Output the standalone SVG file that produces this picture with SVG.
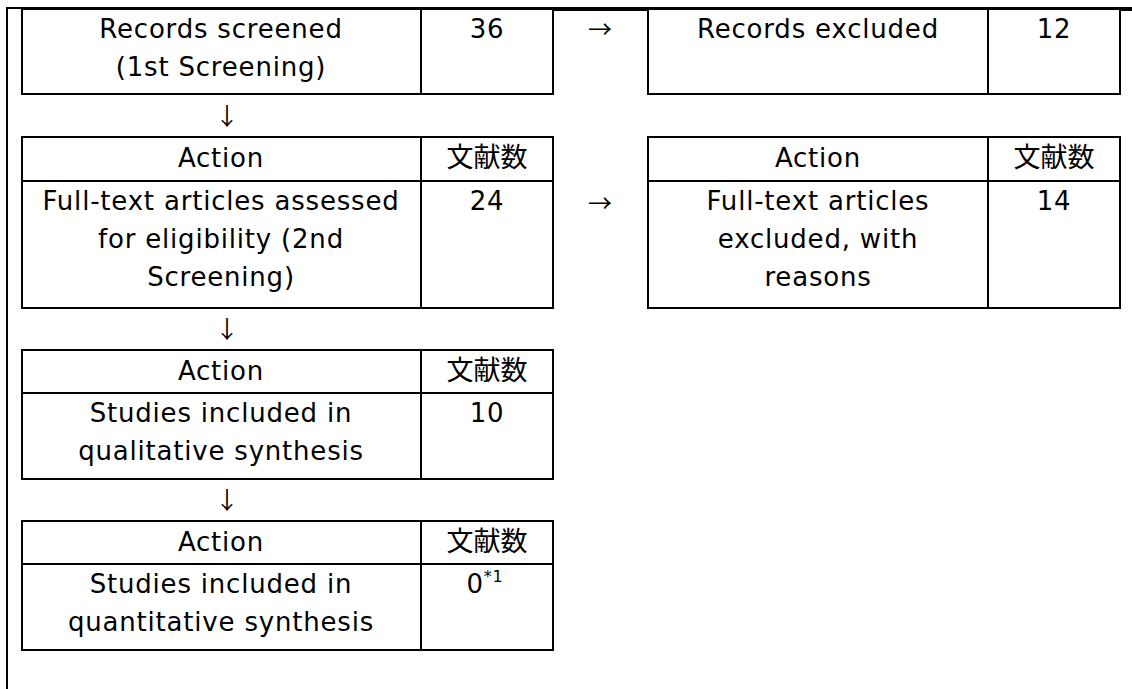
<svg xmlns="http://www.w3.org/2000/svg" width="1132" height="689" viewBox="0 0 1132 689">
<style>
.b{fill:#fff;stroke:#000;stroke-width:2}
.l{stroke:#000;stroke-width:2;fill:none}
.t{font-family:"DejaVu Sans","Liberation Sans",sans-serif;font-size:26px;letter-spacing:0.8px;fill:#000;text-anchor:middle}
.j{font-family:"Noto Sans CJK JP","Noto Sans CJK SC",sans-serif;font-size:27px;fill:#000;text-anchor:middle}
.a{font-family:"Noto Sans CJK JP","Noto Sans CJK SC",sans-serif;font-size:24px;fill:#000;text-anchor:middle}
</style>
<rect width="1132" height="689" fill="#fff"/>
<g id="frame">
<line class="l" x1="7" y1="7" x2="7" y2="689"/>
<line class="l" x1="6" y1="8" x2="22" y2="8"/>
<rect x="21" y="7" width="1111" height="4" fill="#000"/>
</g>
<g id="records-screened">
<rect class="b" x="22" y="9" width="531" height="85"/>
<line class="l" x1="421" y1="9" x2="421" y2="94"/>
<text class="t" x="221" y="38">Records screened</text>
<text class="t" x="221" y="76">(1st Screening)</text>
<text class="t" x="487" y="38">36</text>
</g>
<g id="records-excluded">
<rect class="b" x="648" y="9" width="472" height="85"/>
<line class="l" x1="988" y1="9" x2="988" y2="94"/>
<text class="t" x="818" y="38">Records excluded</text>
<text class="t" x="1054" y="38">12</text>
</g>
<g id="full-text-assessed">
<rect class="b" x="22" y="137" width="531" height="171"/>
<line class="l" x1="22" y1="181" x2="553" y2="181"/>
<line class="l" x1="421" y1="137" x2="421" y2="308"/>
<text class="t" x="221" y="166.5">Action</text>
<text class="j" x="487" y="166.5">文献数</text>
<text class="t" x="221" y="210">Full-text articles assessed</text>
<text class="t" x="221" y="248">for eligibility (2nd</text>
<text class="t" x="221" y="286">Screening)</text>
<text class="t" x="487" y="210">24</text>
</g>
<g id="full-text-excluded">
<rect class="b" x="648" y="137" width="472" height="171"/>
<line class="l" x1="648" y1="181" x2="1120" y2="181"/>
<line class="l" x1="988" y1="137" x2="988" y2="308"/>
<text class="t" x="818" y="166.5">Action</text>
<text class="j" x="1054" y="166.5">文献数</text>
<text class="t" x="818" y="210">Full-text articles</text>
<text class="t" x="818" y="248">excluded, with</text>
<text class="t" x="818" y="286">reasons</text>
<text class="t" x="1054" y="210">14</text>
</g>
<g id="qualitative">
<rect class="b" x="22" y="350" width="531" height="129"/>
<line class="l" x1="22" y1="393" x2="553" y2="393"/>
<line class="l" x1="421" y1="350" x2="421" y2="479"/>
<text class="t" x="221" y="379.5">Action</text>
<text class="j" x="487" y="379.5">文献数</text>
<text class="t" x="221" y="422">Studies included in</text>
<text class="t" x="221" y="460">qualitative synthesis</text>
<text class="t" x="487" y="422">10</text>
</g>
<g id="quantitative">
<rect class="b" x="22" y="521" width="531" height="129"/>
<line class="l" x1="22" y1="564" x2="553" y2="564"/>
<line class="l" x1="421" y1="521" x2="421" y2="650"/>
<text class="t" x="221" y="550.5">Action</text>
<text class="j" x="487" y="550.5">文献数</text>
<text class="t" x="221" y="593">Studies included in</text>
<text class="t" x="221" y="631">quantitative synthesis</text>
<text class="t" x="485" y="593">0<tspan font-size="16" dy="-11">*1</tspan></text>
</g>
<g id="connectors">
<text class="a" x="227" y="125">↓</text>
<text class="a" x="227" y="338">↓</text>
<text class="a" x="227" y="509">↓</text>
<text class="a" x="600" y="38">→</text>
<text class="a" x="600" y="212">→</text>
</g>
</svg>
